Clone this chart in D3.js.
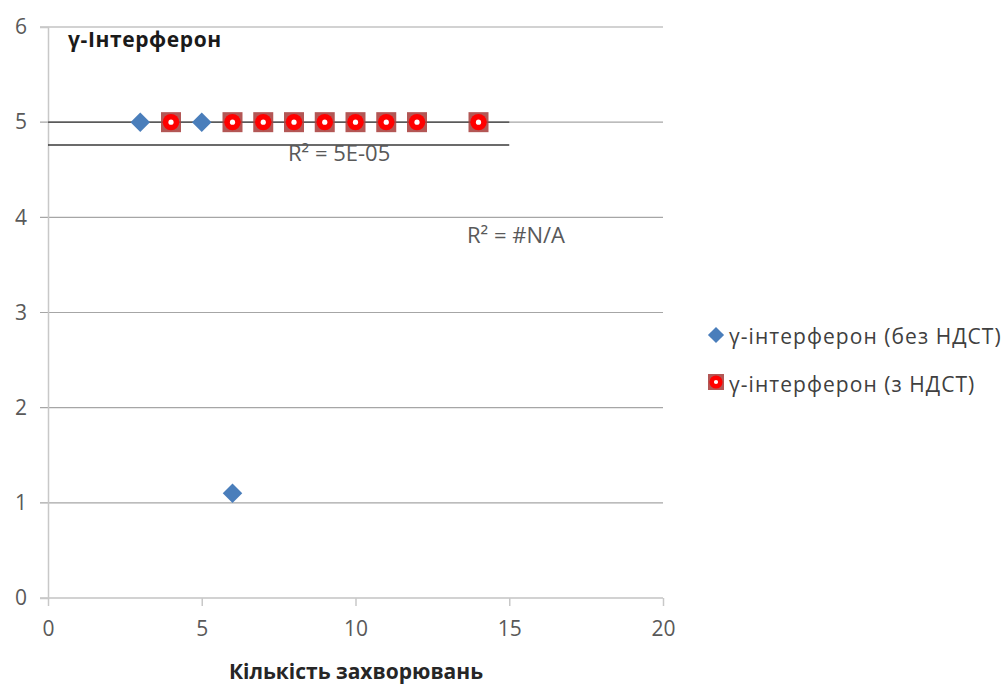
<!DOCTYPE html>
<html>
<head>
<meta charset="utf-8">
<script src="https://cdn.jsdelivr.net/npm/d3@7"></script>
<style>
  body { margin: 0; background: #fff; }
  svg text { font-family: "Open Sans", "Noto Sans", sans-serif; }
</style>
</head>
<body>
<figure id="chart" style="margin:0"></figure>
<script>
// series: без НДСТ (blue diamonds) and з НДСТ (red markers)
const blueX = [3, 5, 6];
const blueY = [5, 5, 1.1];
const redX = [4, 6, 7, 8, 9, 10, 11, 12, 14];
const redY = [5, 5, 5, 5, 5, 5, 5, 5, 5];
// linear trend lines as drawn: [x, value] at both ends
const blueTrend = [[0, 4.76], [15, 4.76]];
const redTrend = [[0, 5], [15, 5]];
const xTicks = [0, 5, 10, 15, 20];
const yTicks = [0, 1, 2, 3, 4, 5, 6];
const seriesNames = ["γ-інтерферон (без НДСТ)", "γ-інтерферон (з НДСТ)"];

const W = 1007, H = 684;
const svg = d3.select("figure#chart").append("svg")
  .attr("width", W).attr("height", H);

// plot area
const x = d3.scaleLinear().domain([0, 20]).range([48, 663]);
const y = d3.scaleLinear().domain([0, 6]).range([598, 27]);

// gridlines
svg.append("g")
   .selectAll("line").data(yTicks).enter().append("line")
   .attr("x1", x(0) - 8).attr("x2", x(20))
   .attr("y1", d => y(d)).attr("y2", d => y(d))
   .attr("stroke", "#a6a6a6").attr("stroke-width", 1.2);

// y axis
const yAxis = svg.append("g")
   .attr("transform", `translate(${x(0)},0)`)
   .call(d3.axisLeft(y).tickValues(yTicks).tickFormat(d3.format("d")).tickSize(8).tickPadding(13));
yAxis.select(".domain").attr("stroke", "#c8c8c8").attr("stroke-width", 1.5);
yAxis.selectAll(".tick line").remove();
yAxis.selectAll("text").attr("fill", "#595959").style("font-size", "21px");

// x axis
const xAxis = svg.append("g")
   .attr("transform", `translate(0,${y(0)})`)
   .call(d3.axisBottom(x).tickValues(xTicks).tickSize(8).tickPadding(15));
xAxis.select(".domain").remove();
xAxis.selectAll(".tick line").attr("stroke", "#c8c8c8").attr("stroke-width", 1.5);
xAxis.selectAll("text").attr("fill", "#595959").style("font-size", "21px");

// trend lines
const line = d3.line().x(d => x(d[0])).y(d => y(d[1]));
[blueTrend, redTrend].forEach(t => {
  svg.append("path").datum(t)
     .attr("fill", "none").attr("stroke", "#3a3a3a").attr("stroke-width", 1.4)
     .attr("d", line);
});

// blue diamonds
const diamond = d3.symbol().type(d3.symbolSquare).size(190);
svg.append("g").selectAll("path").data(blueX).enter().append("path")
   .attr("d", diamond)
   .attr("transform", (d, i) => `translate(${x(d)},${y(blueY[i])}) rotate(45)`)
   .attr("fill", "#4a7ebb");

// red markers
function redMarker(g) {
  g.append("rect").attr("x", -10).attr("y", -10).attr("width", 20).attr("height", 20)
   .attr("fill", "#a8403e").attr("opacity", 0.88);
  g.append("circle").attr("r", 8.2).attr("fill", "#ff0000");
  g.append("circle").attr("r", 2.6).attr("fill", "#ffffff");
}
svg.append("g").selectAll("g").data(redX).enter().append("g")
   .attr("transform", (d, i) => `translate(${x(d)},${y(redY[i])})`)
   .each(function () { redMarker(d3.select(this)); });

// R² labels
svg.append("text").attr("x", 288).attr("y", 161)
   .attr("fill", "#595959").style("font-size", "22px").text("R² = 5E-05");
svg.append("text").attr("x", 467).attr("y", 243)
   .attr("fill", "#595959").style("font-size", "22px").text("R² = #N/A");

// titles
svg.append("text").attr("x", 68).attr("y", 47)
   .attr("fill", "#1a1a1a").style("font-size", "21px").style("font-weight", "bold")
   .style("letter-spacing", "0.6px").text("γ-Інтерферон");
svg.append("text").attr("x", 356).attr("y", 679).attr("text-anchor", "middle")
   .attr("fill", "#262626").style("font-size", "21px").style("font-weight", "bold")
   .text("Кількість захворювань");

// legend
const lg = svg.append("g");
lg.append("path").attr("d", d3.symbol().type(d3.symbolSquare).size(130))
  .attr("transform", "translate(716,335) rotate(45)").attr("fill", "#4a7ebb");
const r2 = lg.append("g").attr("transform", "translate(716,382) scale(0.8)");
redMarker(r2);
seriesNames.forEach((n, i) => {
  lg.append("text").attr("x", 729).attr("y", 344 + i * 48)
    .attr("fill", "#404040").style("font-size", "21px").style("letter-spacing", "1.05px").text(n);
});
</script>
</body>
</html>
